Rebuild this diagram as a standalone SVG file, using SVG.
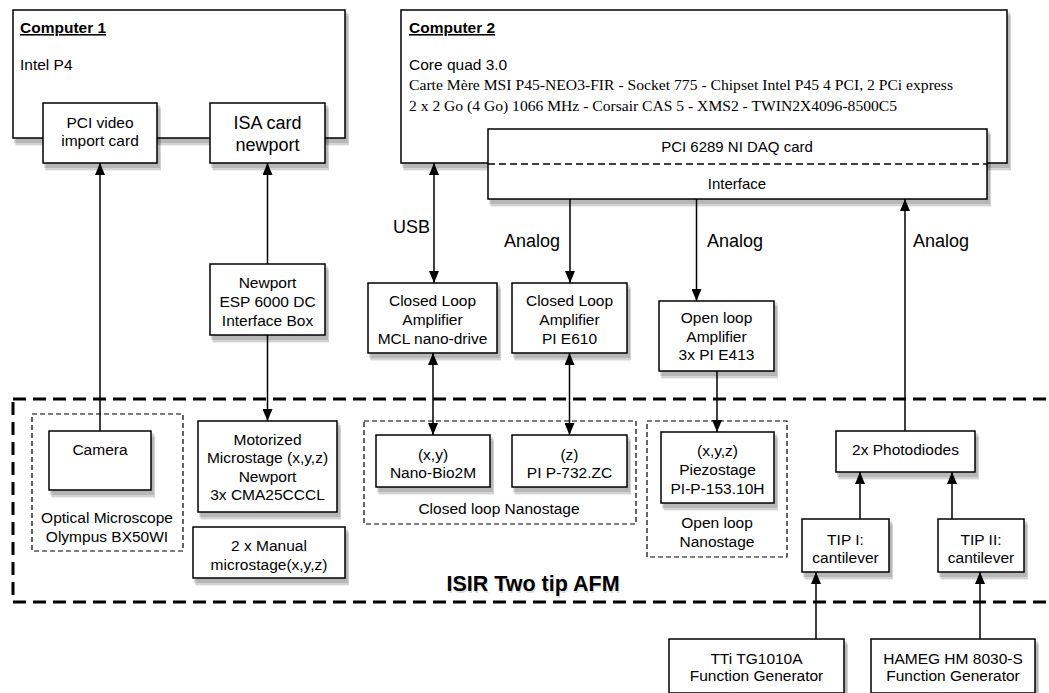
<svg xmlns="http://www.w3.org/2000/svg" width="1049" height="693" viewBox="0 0 1049 693">
<defs>
<marker id="ah" markerUnits="userSpaceOnUse" markerWidth="12" markerHeight="10" viewBox="0 0 12 10" refX="12" refY="5" orient="auto-start-reverse">
<path d="M0,0 L12,5 L0,10 z" fill="#000"/>
</marker>
</defs>
<style>
.box{fill:#fff;stroke:#000;stroke-width:1.5}
.s1{fill:#000;fill-opacity:0.13}
.s2{fill:#000;fill-opacity:0.11}
.s3{fill:#000;fill-opacity:0.07}
.grp{fill:none;stroke:#000;stroke-width:1.2;stroke-dasharray:5 3}
.big{fill:none;stroke:#000;stroke-width:3;stroke-dasharray:13 7}
.t{font-family:"Liberation Sans",Arial,sans-serif;font-size:15.5px;fill:#000;text-anchor:middle}
.tl{font-family:"Liberation Sans",Arial,sans-serif;font-size:15.5px;fill:#000}
.ser{font-family:"Liberation Serif","Times New Roman",serif;font-size:15.5px;fill:#000}
.hd{font-family:"Liberation Sans",Arial,sans-serif;font-size:15.5px;font-weight:bold;fill:#000;text-decoration:underline}
.lab{font-family:"Liberation Sans",Arial,sans-serif;font-size:18px;fill:#000}
.c{fill:none;stroke:#000;stroke-width:1.5}
</style>
<rect width="1049" height="693" fill="#fff"/>

<g id="afm">
<rect x="13" y="399" width="1045" height="203" class="big"/>
<text x="534" y="593" font-family="Liberation Sans, Arial, sans-serif" font-size="21.5" font-weight="bold" text-anchor="middle" fill="#000" fill-opacity="0.15">ISIR Two tip AFM</text>
<text x="533" y="591" font-family="Liberation Sans, Arial, sans-serif" font-size="21.5" font-weight="bold" text-anchor="middle">ISIR Two tip AFM</text>
</g>

<g id="computer1">
<rect class="s1" x="14" y="12" width="334" height="131"/><rect class="s2" x="15" y="14" width="334" height="131"/><rect class="s3" x="16" y="16" width="333" height="130"/>
<rect x="13" y="10" width="332" height="128" class="box"/>
<text x="20" y="33" class="hd">Computer 1</text>
<text x="20" y="70" class="tl">Intel P4</text>
</g>
<g id="pci-video">
<rect class="s1" x="44" y="105" width="116" height="63"/><rect class="s2" x="45" y="107" width="116" height="63"/><rect class="s3" x="46" y="109" width="115" height="62"/>
<rect x="43" y="103" width="114" height="60" class="box"/>
<text class="t"><tspan x="100" y="127.5">PCI video</tspan><tspan x="100" y="145.5">import card</tspan></text>
</g>
<g id="isa-card">
<rect class="s1" x="211" y="105" width="117" height="63"/><rect class="s2" x="212" y="107" width="117" height="63"/><rect class="s3" x="213" y="109" width="116" height="62"/>
<rect x="210" y="103" width="115" height="60" class="box"/>
<text class="t" style="font-size:18px"><tspan x="267.5" y="128.5">ISA card</tspan><tspan x="267.5" y="150.5">newport</tspan></text>
</g>

<g id="computer2">
<rect class="s1" x="402" y="12" width="608" height="156"/><rect class="s2" x="403" y="14" width="608" height="156"/><rect class="s3" x="404" y="16" width="607" height="155"/>
<rect x="401" y="10" width="606" height="153" class="box"/>
<text x="409" y="33" class="hd">Computer 2</text>
<text x="409" y="70" class="tl">Core quad 3.0</text>
<text x="409" y="89.5" class="ser" textLength="544" lengthAdjust="spacingAndGlyphs">Carte Mère MSI P45-NEO3-FIR - Socket 775 - Chipset Intel P45 4 PCI, 2 PCi express</text>
<text x="409" y="110.5" class="ser" textLength="488" lengthAdjust="spacingAndGlyphs">2 x 2 Go (4 Go) 1066 MHz - Corsair CAS 5 - XMS2 - TWIN2X4096-8500C5</text>
</g>
<g id="daq">
<rect class="s1" x="489" y="131" width="501" height="73"/><rect class="s2" x="490" y="133" width="501" height="73"/><rect class="s3" x="491" y="135" width="500" height="72"/>
<rect x="488" y="129" width="499" height="70" class="box"/>
<line x1="488" y1="164" x2="987" y2="164" stroke="#000" stroke-width="1.3" stroke-dasharray="7 4"/>
<text x="737" y="152" class="t" style="font-size:15px">PCI 6289 NI DAQ card</text>
<text x="737" y="189" class="t" style="font-size:15px">Interface</text>
</g>

<g id="newport-box">
<rect class="s1" x="211" y="266" width="117" height="74"/><rect class="s2" x="212" y="268" width="117" height="74"/><rect class="s3" x="213" y="270" width="116" height="73"/>
<rect x="210" y="264" width="115" height="71" class="box"/>
<text class="t"><tspan x="267.5" y="287.5">Newport</tspan><tspan x="267.5" y="306.5">ESP 6000 DC</tspan><tspan x="267.5" y="325.5">Interface Box</tspan></text>
</g>
<g id="amp-mcl">
<rect class="s1" x="369" y="285" width="131" height="73"/><rect class="s2" x="370" y="287" width="131" height="73"/><rect class="s3" x="371" y="289" width="130" height="72"/>
<rect x="368" y="283" width="129" height="70" class="box"/>
<text class="t"><tspan x="432.5" y="306">Closed Loop</tspan><tspan x="432.5" y="324.5">Amplifier</tspan><tspan x="432.5" y="343.5">MCL nano-drive</tspan></text>
</g>
<g id="amp-pi">
<rect class="s1" x="513" y="285" width="117" height="73"/><rect class="s2" x="514" y="287" width="117" height="73"/><rect class="s3" x="515" y="289" width="116" height="72"/>
<rect x="512" y="283" width="115" height="70" class="box"/>
<text class="t"><tspan x="569.5" y="306">Closed Loop</tspan><tspan x="569.5" y="324.5">Amplifier</tspan><tspan x="569.5" y="343.5">PI E610</tspan></text>
</g>
<g id="amp-open">
<rect class="s1" x="660" y="303" width="117" height="73"/><rect class="s2" x="661" y="305" width="117" height="73"/><rect class="s3" x="662" y="307" width="116" height="72"/>
<rect x="659" y="301" width="115" height="70" class="box"/>
<text class="t"><tspan x="716.5" y="323">Open loop</tspan><tspan x="716.5" y="341.5">Amplifier</tspan><tspan x="716.5" y="360">3x PI E413</tspan></text>
</g>

<g id="optical-microscope">
<rect x="32" y="414" width="151" height="137" class="grp"/>
<text class="t"><tspan x="107" y="522.5">Optical Microscope</tspan><tspan x="107" y="541.5">Olympus BX50WI</tspan></text>
</g>
<g id="camera">
<rect class="s1" x="50" y="433" width="104" height="62"/><rect class="s2" x="51" y="435" width="104" height="62"/><rect class="s3" x="52" y="437" width="103" height="61"/>
<rect x="49" y="431" width="102" height="59" class="box"/>
<text x="100" y="454.5" class="t">Camera</text>
</g>
<g id="motorized">
<rect class="s1" x="199" y="423" width="141" height="94"/><rect class="s2" x="200" y="425" width="141" height="94"/><rect class="s3" x="201" y="427" width="140" height="93"/>
<rect x="198" y="421" width="139" height="91" class="box"/>
<text class="t"><tspan x="267.5" y="444.5">Motorized</tspan><tspan x="267.5" y="463">Microstage (x,y,z)</tspan><tspan x="267.5" y="481.5">Newport</tspan><tspan x="267.5" y="500">3x CMA25CCCL</tspan></text>
</g>
<g id="manual">
<rect class="s1" x="194" y="529" width="154" height="54"/><rect class="s2" x="195" y="531" width="154" height="54"/><rect class="s3" x="196" y="533" width="153" height="53"/>
<rect x="193" y="527" width="152" height="51" class="box"/>
<text class="t"><tspan x="269" y="550.5">2 x Manual</tspan><tspan x="269" y="569.5">microstage(x,y,z)</tspan></text>
</g>

<g id="closed-nanostage">
<rect x="364" y="421" width="272" height="103" class="grp"/>
<text x="499" y="513.5" class="t">Closed loop Nanostage</text>
</g>
<g id="nano-bio">
<rect class="s1" x="377" y="437" width="116" height="55"/><rect class="s2" x="378" y="439" width="116" height="55"/><rect class="s3" x="379" y="441" width="115" height="54"/>
<rect x="376" y="435" width="114" height="52" class="box"/>
<text class="t"><tspan x="433" y="459.5">(x,y)</tspan><tspan x="433" y="477.5">Nano-Bio2M</tspan></text>
</g>
<g id="pi-p732">
<rect class="s1" x="513" y="437" width="117" height="55"/><rect class="s2" x="514" y="439" width="117" height="55"/><rect class="s3" x="515" y="441" width="116" height="54"/>
<rect x="512" y="435" width="115" height="52" class="box"/>
<text class="t"><tspan x="569.5" y="459.5">(z)</tspan><tspan x="569.5" y="477.5">PI P-732.ZC</tspan></text>
</g>

<g id="open-nanostage">
<rect x="647" y="421" width="140" height="136" class="grp"/>
<text class="t"><tspan x="717" y="527.5">Open loop</tspan><tspan x="717" y="546.5">Nanostage</tspan></text>
</g>
<g id="piezostage">
<rect class="s1" x="662" y="434" width="115" height="74"/><rect class="s2" x="663" y="436" width="115" height="74"/><rect class="s3" x="664" y="438" width="114" height="73"/>
<rect x="661" y="432" width="113" height="71" class="box"/>
<text class="t"><tspan x="717.5" y="455.5">(x,y,z)</tspan><tspan x="717.5" y="474.5">Piezostage</tspan><tspan x="717.5" y="493.5">PI-P-153.10H</tspan></text>
</g>

<g id="photodiodes">
<rect class="s1" x="837" y="433" width="141" height="44"/><rect class="s2" x="838" y="435" width="141" height="44"/><rect class="s3" x="839" y="437" width="140" height="43"/>
<rect x="836" y="431" width="139" height="41" class="box"/>
<text x="905.5" y="454.5" class="t">2x Photodiodes</text>
</g>
<g id="tip1">
<rect class="s1" x="803" y="521" width="89" height="56"/><rect class="s2" x="804" y="523" width="89" height="56"/><rect class="s3" x="805" y="525" width="88" height="55"/>
<rect x="802" y="519" width="87" height="53" class="box"/>
<text class="t"><tspan x="845.5" y="544.5">TIP I:</tspan><tspan x="845.5" y="562.5">cantilever</tspan></text>
</g>
<g id="tip2">
<rect class="s1" x="939" y="521" width="88" height="56"/><rect class="s2" x="940" y="523" width="88" height="56"/><rect class="s3" x="941" y="525" width="87" height="55"/>
<rect x="938" y="519" width="86" height="53" class="box"/>
<text class="t"><tspan x="981" y="544.5">TIP II:</tspan><tspan x="981" y="562.5">cantilever</tspan></text>
</g>
<g id="tti">
<rect class="s1" x="670" y="641" width="177" height="57"/><rect class="s2" x="671" y="643" width="177" height="57"/><rect class="s3" x="672" y="645" width="176" height="56"/>
<rect x="669" y="639" width="175" height="54" class="box"/>
<text class="t"><tspan x="756.5" y="663.5">TTi TG1010A</tspan><tspan x="756.5" y="681">Function Generator</tspan></text>
</g>
<g id="hameg">
<rect class="s1" x="872" y="641" width="166" height="57"/><rect class="s2" x="873" y="643" width="166" height="57"/><rect class="s3" x="874" y="645" width="165" height="56"/>
<rect x="871" y="639" width="164" height="54" class="box"/>
<text class="t"><tspan x="953" y="663.5">HAMEG HM 8030-S</tspan><tspan x="953" y="681">Function Generator</tspan></text>
</g>

<g id="connectors">
<line x1="100" y1="431" x2="100" y2="163" class="c" marker-end="url(#ah)"/>
<line x1="267.5" y1="264" x2="267.5" y2="163" class="c" marker-end="url(#ah)"/>
<line x1="267.5" y1="335" x2="267.5" y2="421" class="c" marker-end="url(#ah)"/>
<line x1="434" y1="163" x2="434" y2="283" class="c" marker-start="url(#ah)" marker-end="url(#ah)"/>
<line x1="570" y1="199" x2="570" y2="283" class="c" marker-end="url(#ah)"/>
<line x1="696.5" y1="199" x2="696.5" y2="301" class="c" marker-end="url(#ah)"/>
<line x1="905" y1="431" x2="905" y2="199" class="c" marker-end="url(#ah)"/>
<line x1="433" y1="353" x2="433" y2="435" class="c" marker-start="url(#ah)" marker-end="url(#ah)"/>
<line x1="569.5" y1="353" x2="569.5" y2="435" class="c" marker-start="url(#ah)" marker-end="url(#ah)"/>
<line x1="717" y1="371" x2="717" y2="432" class="c" marker-end="url(#ah)"/>
<line x1="860" y1="519" x2="860" y2="472" class="c" marker-end="url(#ah)"/>
<line x1="952" y1="519" x2="952" y2="472" class="c" marker-end="url(#ah)"/>
<line x1="816" y1="639" x2="816" y2="572" class="c" marker-end="url(#ah)"/>
<line x1="980" y1="639" x2="980" y2="572" class="c" marker-end="url(#ah)"/>
<text x="430" y="232.5" class="lab" text-anchor="end">USB</text>
<text x="504" y="246.5" class="lab">Analog</text>
<text x="707" y="246.5" class="lab">Analog</text>
<text x="913" y="246.5" class="lab">Analog</text>
</g>
</svg>
